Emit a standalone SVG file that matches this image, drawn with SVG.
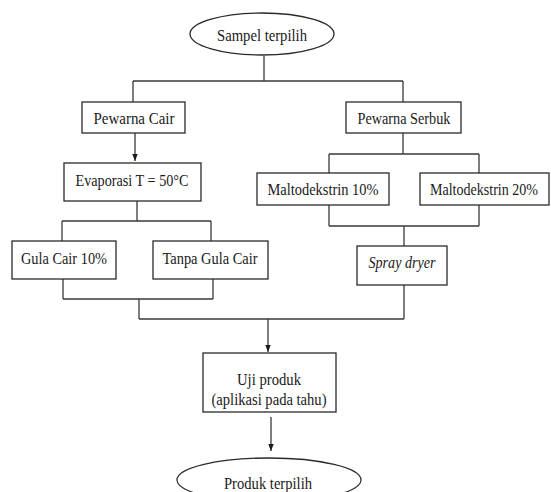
<svg xmlns="http://www.w3.org/2000/svg" width="551" height="492" viewBox="0 0 551 492">
<style>
.box{fill:#fff;stroke:#2a2a2a;stroke-width:1.3}
.ln{fill:none;stroke:#3a3a3a;stroke-width:1.3}
text{font-family:"Liberation Serif","Times New Roman",serif;font-size:16px;fill:#1a1a1a;text-anchor:middle}
</style>
<defs>
<marker id="arr" markerWidth="7" markerHeight="9" refX="9" refY="3.5" orient="auto" markerUnits="userSpaceOnUse" viewBox="0 0 9 7">
<path d="M0,0 L9,3.5 L0,7 Z" fill="#1a1a1a"/>
</marker>
</defs>
<rect width="551" height="492" fill="#fff"/>
<g id="connectors">
<path class="ln" d="M264,56 V81 M133,81 H403 M133,81 V102 M403,81 V102"/>
<path class="ln" d="M135,133 V161" marker-end="url(#arr)"/>
<path class="ln" d="M137,201 V221 M62,221 H211 M62,221 V241 M211,221 V241"/>
<path class="ln" d="M63,279 V299 M213,279 V299 M63,299 H213 M139,299 V319 M139,319 H404"/>
<path class="ln" d="M403,133 V154 M329,154 H479 M329,154 V173 M479,154 V173"/>
<path class="ln" d="M329,205 V226 M479,205 V226 M329,226 H479 M404,226 V246"/>
<path class="ln" d="M404,285 V319"/>
<path class="ln" d="M268,319 V352" marker-end="url(#arr)"/>
<path class="ln" d="M271,417 V451" marker-end="url(#arr)"/>
</g>
<g id="sampel">
<ellipse class="box" cx="262" cy="34" rx="72" ry="21"/>
<text x="262" y="41" textLength="90" lengthAdjust="spacingAndGlyphs">Sampel terpilih</text>
</g>
<g id="pewarna-cair">
<rect class="box" x="82" y="102" width="103" height="31"/>
<text x="134" y="124" textLength="81" lengthAdjust="spacingAndGlyphs">Pewarna Cair</text>
</g>
<g id="pewarna-serbuk">
<rect class="box" x="346" y="102" width="115" height="31"/>
<text x="404" y="124" textLength="93" lengthAdjust="spacingAndGlyphs">Pewarna Serbuk</text>
</g>
<g id="evaporasi">
<rect class="box" x="64" y="163" width="137" height="38"/>
<text x="132" y="186" textLength="113" lengthAdjust="spacingAndGlyphs">Evaporasi T = 50°C</text>
</g>
<g id="gula-cair">
<rect class="box" x="12" y="241" width="104" height="38"/>
<text x="64" y="264" textLength="86" lengthAdjust="spacingAndGlyphs">Gula Cair 10%</text>
</g>
<g id="tanpa-gula">
<rect class="box" x="153" y="241" width="115" height="38"/>
<text x="210" y="264" textLength="95" lengthAdjust="spacingAndGlyphs">Tanpa Gula Cair</text>
</g>
<g id="malto10">
<rect class="box" x="257" y="173" width="132" height="32"/>
<text x="323" y="195" textLength="111" lengthAdjust="spacingAndGlyphs">Maltodekstrin 10%</text>
</g>
<g id="malto20">
<rect class="box" x="420" y="173" width="129" height="32"/>
<text x="484" y="195" textLength="108" lengthAdjust="spacingAndGlyphs">Maltodekstrin 20%</text>
</g>
<g id="spray">
<rect class="box" x="357" y="246" width="90" height="39"/>
<text x="402" y="268" font-style="italic" textLength="67" lengthAdjust="spacingAndGlyphs">Spray dryer</text>
</g>
<g id="uji">
<rect class="box" x="203" y="353" width="133" height="59"/>
<text x="269" y="385" textLength="64" lengthAdjust="spacingAndGlyphs">Uji produk</text>
<text x="269" y="405" textLength="115" lengthAdjust="spacingAndGlyphs">(aplikasi pada tahu)</text>
</g>
<g id="produk">
<ellipse class="box" cx="269" cy="480" rx="92" ry="22"/>
<text x="268" y="489" textLength="88" lengthAdjust="spacingAndGlyphs">Produk terpilih</text>
</g>
</svg>
